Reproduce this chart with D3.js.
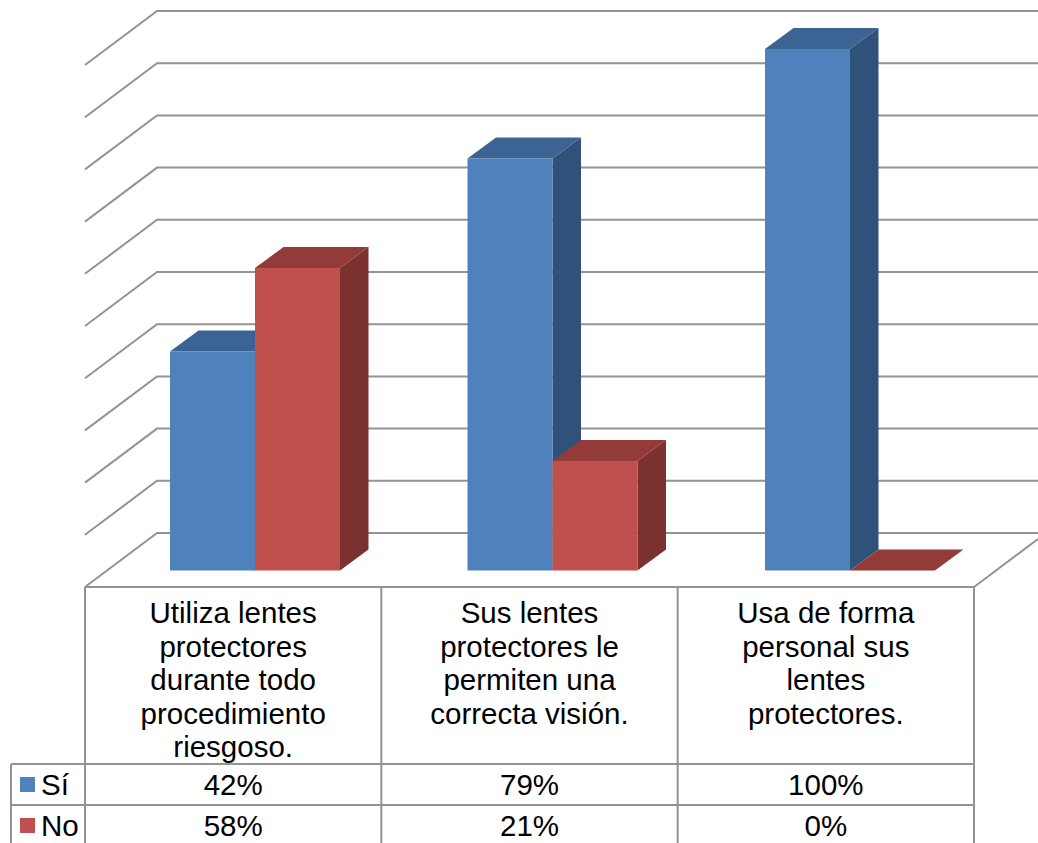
<!DOCTYPE html>
<html><head><meta charset="utf-8">
<script src="https://cdn.jsdelivr.net/npm/d3@7"></script>
<style>html,body{margin:0;padding:0;background:#fff;overflow:hidden}svg{display:block}text{font-family:"Liberation Sans",Arial,sans-serif;fill:#000}</style>
</head><body><div id="chart"></div>
<script>
const categories = ["Utiliza lentes protectores durante todo procedimiento riesgoso.","Sus lentes protectores le permiten una correcta visión.","Usa de forma personal sus lentes protectores."];
const categoryLines = [["Utiliza lentes","protectores","durante todo","procedimiento","riesgoso."],["Sus lentes","protectores le","permiten una","correcta visión."],["Usa de forma","personal sus","lentes","protectores."]];
const seriesNames = ["Sí","No"];
const si = [42,79,100];
const no = [58,21,0];
const seriesValues = [si,no];
const gridTicks = [0,10,20,30,40,50,60,70,80,90,100];
const frontColors = ["#4f81bd","#c0504d"];
const topColors = ["#3b6494","#923b39"];
const sideColors = ["#30527a","#7b312f"];
const W=1038,H=843;
const svg=d3.select("#chart").append("svg").attr("width",W).attr("height",H);
const x=d3.scaleBand().domain(d3.range(categories.length)).range([85,974]);
const barStart=d3.scalePoint().domain(d3.range(categories.length)).range([170,765]);
const xs=d3.scaleBand().domain(d3.range(seriesNames.length)).range([0,170]);
const yBar=d3.scaleLinear().domain([0,100]).range([570.5,49]);
const yGrid=d3.scaleLinear().domain([0,100]).range([533,11]);
const dxWall=72,dyWall=54,dxBar=28.5,dyBar=21,grey="#939393",gw=2;
const gridG=svg.append("g");
gridG.selectAll("path").data(gridTicks).join("path")
 .attr("fill","none").attr("stroke",grey).attr("stroke-width",gw)
 .attr("d",d=>{const yb=yGrid(d);return `M${x.range()[0]},${yb+dyWall}L${x.range()[0]+dxWall},${yb}L${W},${yb}`});
gridG.append("path").attr("fill","none").attr("stroke",grey).attr("stroke-width",gw)
 .attr("d",`M974,587L${W},${587-dyWall*64/72}`);
const bars=svg.append("g");
categories.forEach((c,i)=>{
 seriesNames.forEach((s,j)=>{
  const v=seriesValues[j][i],x0=barStart(i)+xs(j),x1=x0+xs.bandwidth(),yt=yBar(v),yb=yBar(0);
  const g=bars.append("g");
  g.append("path").attr("fill",sideColors[j]).attr("d",`M${x1},${yt}L${x1+dxBar},${yt-dyBar}L${x1+dxBar},${yb-dyBar}L${x1},${yb}Z`);
  g.append("path").attr("fill",topColors[j]).attr("d",`M${x0},${yt}L${x0+dxBar},${yt-dyBar}L${x1+dxBar},${yt-dyBar}L${x1},${yt}Z`);
  g.append("rect").attr("x",x0).attr("y",yt).attr("width",x1-x0).attr("height",yb-yt).attr("fill",frontColors[j]);
 });
});
// data table
const tTop=587,tHead=764,tRow1=805,tLeft=11;
const tb=svg.append("g").attr("stroke",grey).attr("stroke-width",gw).attr("fill","none");
tb.append("path").attr("d",`M85,${tTop}H974`);
tb.append("path").attr("d",`M${tLeft},${tHead}H974M${tLeft},${tRow1}H974`);
tb.append("path").attr("d",`M${tLeft},${tHead}V${H}`);
[0,1,2,3].forEach(i=>{const px=i<3?x(i):x.range()[1];tb.append("path").attr("d",`M${px},${tTop}V${H}`)});
const fs=29.5,cx=i=>x(i)+x.bandwidth()/2;
categoryLines.forEach((ls,i)=>{
 svg.append("g").selectAll("text").data(ls).join("text")
  .attr("x",cx(i)).attr("y",(d,k)=>623+k*33.6).attr("text-anchor","middle").attr("font-size",fs).text(d=>d);
});
const rowY=[795,836];
seriesNames.forEach((s,j)=>{
 svg.append("rect").attr("x",20).attr("y",rowY[j]-18).attr("width",15).attr("height",15).attr("fill",frontColors[j]);
 svg.append("text").attr("x",41).attr("y",rowY[j]).attr("font-size",fs).text(s);
 seriesValues[j].forEach((v,i)=>svg.append("text").attr("x",cx(i)).attr("y",rowY[j]).attr("text-anchor","middle").attr("font-size",fs).text(v+"%"));
});
</script></body></html>
